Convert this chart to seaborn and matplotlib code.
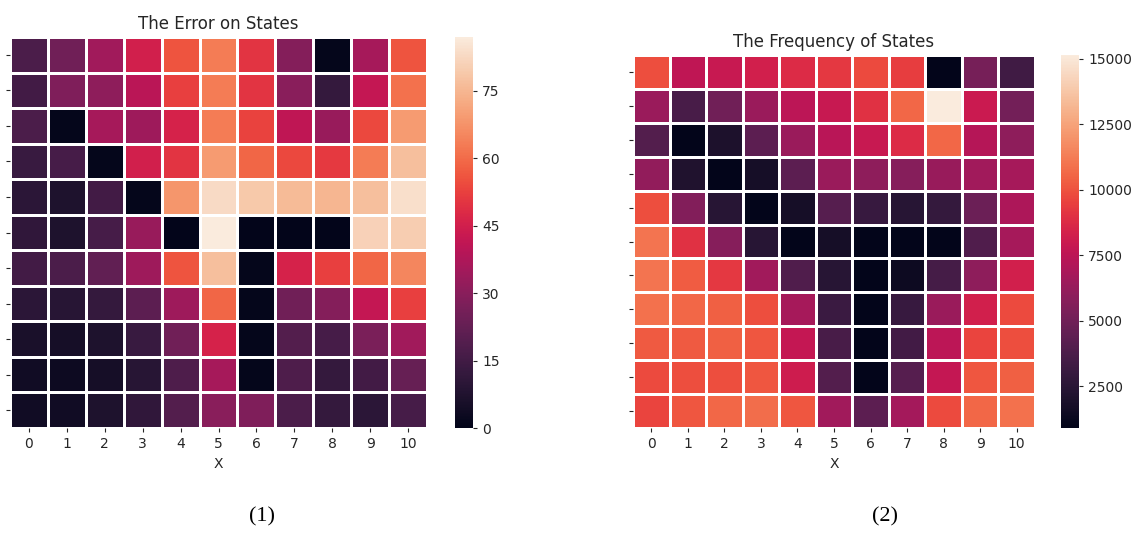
import numpy as np
import pandas as pd
import matplotlib
matplotlib.use("Agg")
import matplotlib.pyplot as plt
import seaborn as sns

x_labels = list(range(11))

# Estimation error per state (rows top to bottom)
error_rows = [
    [17, 25, 35, 45, 56, 63, 50, 29, 1, 36, 56],
    [15, 28, 31, 40, 52, 63, 50, 30, 12, 42, 61],
    [17, 1, 36, 34, 46, 63, 53, 41, 33, 54, 69],
    [13, 16, 1, 45, 50, 69, 59, 54, 51, 63, 77],
    [10, 7, 15, 1, 68, 83, 79, 76, 75, 77, 84],
    [11, 7, 16, 33, 0, 87, 0, 0, 0, 81, 80],
    [15, 17, 22, 34, 56, 77, 1, 46, 52, 59, 65],
    [10, 9, 12, 21, 34, 59, 1, 25, 29, 42, 52],
    [6, 5, 7, 13, 25, 46, 1, 19, 16, 27, 35],
    [4, 3, 5, 9, 18, 36, 1, 18, 12, 15, 23],
    [4, 4, 7, 11, 19, 30, 28, 17, 12, 10, 16],
]

# Visit counts per state (rows top to bottom)
freq_rows = [
    [9900, 7600, 7900, 8300, 8800, 9200, 9800, 9400, 900, 5200, 3300],
    [6400, 3600, 5000, 6400, 7500, 7900, 9000, 10600, 15150, 8000, 5100],
    [4000, 900, 2000, 4300, 6400, 7400, 7900, 8800, 10600, 7300, 6000],
    [6100, 2100, 900, 1700, 4300, 6400, 6000, 5700, 6300, 6600, 6800],
    [9900, 5600, 2400, 900, 1700, 4100, 3000, 2400, 2900, 4800, 7000],
    [11000, 9000, 5700, 2400, 900, 1700, 900, 900, 900, 3900, 6800],
    [11000, 10300, 9200, 6600, 3900, 2400, 900, 1400, 3500, 6000, 8300],
    [10900, 10600, 10400, 9900, 6800, 3100, 900, 3000, 6400, 8300, 9800],
    [10200, 10200, 10400, 10100, 7800, 3600, 900, 3400, 7500, 9600, 9900],
    [9800, 9900, 9900, 10100, 8100, 4000, 900, 4100, 7800, 10100, 10400],
    [9600, 10100, 10600, 10800, 10100, 6600, 4300, 6700, 9800, 10600, 10900],
]

error_df = pd.DataFrame(error_rows, columns=x_labels)
freq_df = pd.DataFrame(freq_rows, columns=x_labels)

W, H = 1140, 533
fig = plt.figure(figsize=(W / 100, H / 100), dpi=100)


def box(x0, y0, x1, y1):
    return [x0 / W, 1 - y1 / H, (x1 - x0) / W, (y1 - y0) / H]


ax1 = fig.add_axes(box(10, 37, 427, 428))
cax1 = fig.add_axes(box(455, 37, 473, 428))
ax2 = fig.add_axes(box(633, 55, 1035, 428))
cax2 = fig.add_axes(box(1061, 55, 1079, 428))

cmap = sns.color_palette("rocket", as_cmap=True)

sns.heatmap(error_df, ax=ax1, cbar_ax=cax1, cmap=cmap, vmin=0,
            linewidths=0.8, linecolor="white",
            yticklabels=[""] * 11, cbar_kws={"ticks": [0, 15, 30, 45, 60, 75]})
sns.heatmap(freq_df, ax=ax2, cbar_ax=cax2, cmap=cmap,
            linewidths=0.8, linecolor="white",
            yticklabels=[""] * 11,
            cbar_kws={"ticks": [2500, 5000, 7500, 10000, 12500, 15000]})

for ax, title in [(ax1, "The Error on States"), (ax2, "The Frequency of States")]:
    ax.set_title(title, fontsize=12, color="#262626")
    ax.set_xlabel("X", fontsize=10, color="#262626")
    ax.set_ylabel("")
    ax.tick_params(axis="both", length=3, width=0.8, colors="#262626", labelsize=10)
    ax.tick_params(axis="x", rotation=0)

for cax in (cax1, cax2):
    cax.tick_params(length=3, width=0.8, colors="#262626", labelsize=10)
    for s in cax.spines.values():
        s.set_visible(False)

fig.text(262 / W, 1 - 517 / H, "(1)", ha="center", va="center",
         fontsize=16, family="Liberation Serif")
fig.text(885 / W, 1 - 517 / H, "(2)", ha="center", va="center",
         fontsize=16, family="Liberation Serif")

fig.savefig("out.png", dpi=100)
